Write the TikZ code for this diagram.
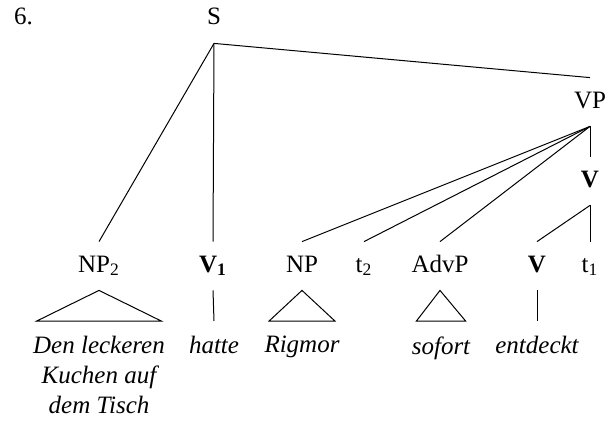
\documentclass[tikz,border=0pt]{standalone}
\usepackage{fontspec}
\setmainfont{Liberation Serif}
\usetikzlibrary{positioning}

\begin{document}
\begin{tikzpicture}[
    x=0.5pt, y=-0.5pt,
    font=\fontsize{12.5}{15}\selectfont,
    cat/.style={inner sep=0pt, text height=15pt, text depth=9pt, anchor=base},
    word/.style={inner xsep=0pt, inner ysep=7.5pt, anchor=north, align=center,
        font=\fontsize{12.5}{15}\selectfont\itshape},
    branch/.style={line width=0.5pt, draw=black}
]
\useasboundingbox (0,0) rectangle (605,423);

% Example number
\node[anchor=base west] (num) at (7,25) {6.};

% Upper nodes
\node[cat] (s) at (214,25) {S};
\node[cat] (vp) at (590,108) {VP};
\node[cat] (vbar) at (590,187) {\textbf{V}};

% Lower nodes
\node[cat] (np2) at (99,272) {NP\textsubscript{2}};
\node[cat] (v1) at (213,272) {\textbf{V\textsubscript{1}}};
\node[cat] (np) at (302,272) {NP};
\node[cat] (t2) at (364,272) {t\textsubscript{2}};
\node[cat] (advp) at (440,272) {AdvP};
\node[cat] (v) at (537,272) {\textbf{V}};
\node[cat] (t1) at (590,272) {t\textsubscript{1}};

% Words
\node[word] (kuchen) at (99,321) {Den leckeren\\Kuchen auf\\dem Tisch};
\node[word] (hatte) at (214,321) {hatte};
\node[word] (rigmor) at (302,321) {Rigmor};
\node[word] (sofort) at (441,321) {sofort};
\node[word] (entdeckt) at (537,321) {entdeckt};

% Branches
\draw[branch] (s.south) -- (np2.north);
\draw[branch] (s.south) -- (v1.north);
\draw[branch] (s.south) -- (vp.north);
\draw[branch] (vp.south) -- (np.north);
\draw[branch] (vp.south) -- (t2.north);
\draw[branch] (vp.south) -- (advp.north);
\draw[branch] (vp.south) -- (vbar.north);
\draw[branch] (vbar.south) -- (v.north);
\draw[branch] (vbar.south) -- (t1.north);

% Roofs and leaves
\draw[branch] (np2.south) -- ([xshift=2pt]kuchen.north west) -- ([xshift=-2pt]kuchen.north east) -- cycle;
\draw[branch] (v1.south) -- (hatte.north);
\draw[branch] (np.south) -- ([xshift=2.5pt]rigmor.north west) -- ([xshift=-2.5pt]rigmor.north east) -- cycle;
\draw[branch] (advp.south) -- ([xshift=2.5pt]sofort.north west) -- ([xshift=-2.5pt]sofort.north east) -- cycle;
\draw[branch] (v.south) -- (entdeckt.north);

\end{tikzpicture}
\end{document}
